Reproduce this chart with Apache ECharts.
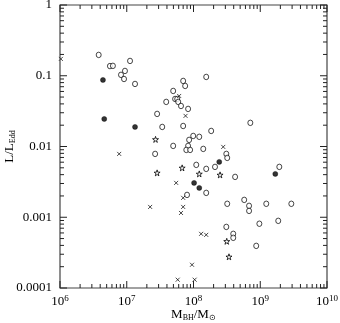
<!DOCTYPE html>
<html><head><meta charset="utf-8">
<script src="https://cdn.jsdelivr.net/npm/echarts@6/dist/echarts.min.js"></script>
<style>html,body{margin:0;padding:0;background:#fff}#c{width:340px;height:323px}</style>
</head><body><div id="c"></div>
<script>
// Axis tick labels
const xTickExponents = [6, 7, 8, 9, 10];
const yTickLabels = ['0.0001', '0.001', '0.01', '0.1', '1'];

// [M_BH / M_sun, L / L_Edd]
const openCircles = [
  [3.8e6, 0.197], [5.6e6, 0.137], [6.2e6, 0.138], [1.12e7, 0.162], [9.4e6, 0.117],
  [8.2e6, 0.103], [9.1e6, 0.090], [1.33e7, 0.0766], [3.9e7, 0.0427], [2.85e7, 0.0289],
  [3.4e7, 0.0189], [2.66e7, 0.00786], [7.0e7, 0.0845], [7.5e7, 0.0718], [1.55e8, 0.0962],
  [4.96e7, 0.061], [5.3e7, 0.047], [5.7e7, 0.047], [5.9e7, 0.0427], [6.5e7, 0.0374],
  [8.3e7, 0.034], [7.0e7, 0.0195], [9.9e7, 0.0141], [1.22e8, 0.0137], [8.6e7, 0.0124],
  [1.84e8, 0.0166], [7.1e8, 0.0216], [4.96e7, 0.0102], [8.3e7, 0.0102], [7.8e7, 0.00895],
  [8.9e7, 0.00895], [1.40e8, 0.00925], [3.1e8, 0.00786], [3.2e8, 0.0069], [1.1e8, 0.0055],
  [1.55e8, 0.00483], [2.1e8, 0.00515], [1.93e9, 0.00515], [4.2e8, 0.00372], [1.55e8, 0.00221],
  [8.0e7, 0.00207], [3.2e8, 0.00155], [5.75e8, 0.00176], [6.8e8, 0.00145], [6.8e8, 0.00123],
  [1.23e9, 0.00155], [2.92e9, 0.00155], [1.86e9, 0.00089], [9.7e8, 0.00081], [3.1e8, 0.00073],
  [3.94e8, 0.000583], [3.94e8, 0.000512], [8.7e8, 0.000394]
];
const filledCircles = [
  [4.4e6, 0.0872], [4.6e6, 0.0245], [1.33e7, 0.0189], [2.43e8, 0.00606],
  [1.68e9, 0.0041], [1.02e8, 0.00306], [1.22e8, 0.0026]
];
const stars = [
  [2.7e7, 0.0126], [2.85e7, 0.00424], [6.76e7, 0.00499], [1.22e8, 0.0041],
  [2.5e8, 0.00397], [3.15e8, 0.000457], [3.4e8, 0.000276]
];
const crosses = [
  [1.03e6, 0.173], [7.7e6, 0.00786], [2.24e7, 0.0014], [6.1e7, 0.0518], [7.6e7, 0.0271],
  [2.79e8, 0.00987], [5.5e7, 0.00306], [7.0e7, 0.00188], [7.0e7, 0.0014], [6.5e7, 0.00115],
  [1.30e8, 0.000583], [1.55e8, 0.000564], [9.5e7, 0.000213], [5.8e7, 0.000131], [1.04e8, 0.000131]
];

const FONT = '"Liberation Serif","Times New Roman",serif';

const xMin = Math.pow(10, xTickExponents[0]), xMax = Math.pow(10, xTickExponents[xTickExponents.length - 1]);
const yMin = Number(yTickLabels[0]), yMax = Number(yTickLabels[yTickLabels.length - 1]);
const xLo = xTickExponents[0], xHi = xTickExponents[xTickExponents.length - 1];
const yLo = Math.round(Math.log10(yMin)), yHi = Math.round(Math.log10(yMax));

const xLabel = { show: true, margin: 6, fontFamily: FONT, fontSize: 13, color: '#000',
  formatter: v => '{b|10}{s|' + Math.round(Math.log10(v)) + '}',
  rich: { b: { fontFamily: FONT, fontSize: 13, color: '#000' },
          s: { fontFamily: FONT, fontSize: 9, color: '#000', verticalAlign: 'top', padding: [0, 0, 6, 0] } } };
const yLabel = { show: true, margin: 8, fontFamily: FONT, fontSize: 13, color: '#000' };

function logAxis(pos, min, max, lab) {
  return { type: 'log', logBase: 10, min: min, max: max, position: pos,
    axisLine: { show: false, onZero: false }, axisTick: { show: false },
    axisLabel: lab, splitLine: { show: false }, minorTick: { show: false } };
}

const option = {
  animation: false,
  backgroundColor: '#fff',
  grid: { left: 60, right: 13, top: 5, bottom: 35, outerBoundsMode: 'none' },
  xAxis: logAxis('bottom', xMin, xMax, xLabel),
  yAxis: logAxis('left', yMin, yMax, yLabel),
  series: [
    { type: 'scatter', data: openCircles, symbol: 'circle', symbolSize: [5, 5.5],
      itemStyle: { color: '#fff', borderColor: '#000', borderWidth: 0.9 } },
    { type: 'scatter', data: filledCircles, symbol: 'circle', symbolSize: 5,
      itemStyle: { color: '#000', borderColor: '#000', borderWidth: 0.5 } },
    { type: 'scatter', data: stars, symbol: 'path://M50,0L61,35L98,35L68,57L79,91L50,70L21,91L32,57L2,35L39,35Z',
      symbolSize: 6, itemStyle: { color: '#fff', borderColor: '#000', borderWidth: 1 } },
    { type: 'scatter', data: crosses, symbol: 'path://M0,0L10,10M10,0L0,10', symbolSize: 4,
      itemStyle: { color: 'rgba(0,0,0,0)', borderColor: '#000', borderWidth: 0.9 } }
  ]
};

const chart = echarts.init(document.getElementById('c'));
chart.setOption(option);

// Frame and tick marks placed through the chart's own log scales
const px = v => chart.convertToPixel({ xAxisIndex: 0 }, v);
const py = v => chart.convertToPixel({ yAxisIndex: 0 }, v);
const L = px(xMin), R = px(xMax), B = py(yMin), T = py(yMax);
const TICK = { stroke: '#222', lineWidth: 1 };
const els = [
  { type: 'rect', z: 10, shape: { x: L, y: T, width: R - L, height: B - T },
    style: { fill: 'none', stroke: '#444', lineWidth: 1.2 } }
];
function seg(x1, y1, x2, y2) {
  els.push({ type: 'line', z: 10, shape: { x1: x1, y1: y1, x2: x2, y2: y2 }, style: TICK });
}
for (let e = xLo; e <= xHi; e++) {
  for (let k = 1; k <= 9; k++) {
    if (e === xHi && k > 1) break;
    const x = px(k * Math.pow(10, e)), len = k === 1 ? 7 : 4;
    seg(x, B, x, B - len); seg(x, T, x, T + len);
  }
}
for (let e = yLo; e <= yHi; e++) {
  for (let k = 1; k <= 9; k++) {
    if (e === yHi && k > 1) break;
    const y = py(k * Math.pow(10, e)), len = k === 1 ? 7 : 4;
    seg(L, y, L + len, y); seg(R, y, R - len, y);
  }
}
els.push(
  { type: 'text', x: (L + R) / 2, y: 315, style: {
      text: '{a|M}{s|BH}{a|/M}{s|\u2299}', align: 'center', verticalAlign: 'middle',
      rich: { a: { fontFamily: FONT, fontSize: 13, fill: '#000' },
              s: { fontFamily: FONT, fontSize: 8, fill: '#000', verticalAlign: 'bottom', padding: [6, 0, 0, 0] } } } },
  { type: 'text', x: 10, y: (T + B) / 2, rotation: Math.PI / 2, style: {
      text: '{a|L/L}{s|Edd}', align: 'center', verticalAlign: 'middle',
      rich: { a: { fontFamily: FONT, fontSize: 13, fill: '#000' },
              s: { fontFamily: FONT, fontSize: 8, fill: '#000', verticalAlign: 'bottom', padding: [6, 0, 0, 0] } } } }
);
chart.setOption({ graphic: { elements: els } });
</script></body></html>
